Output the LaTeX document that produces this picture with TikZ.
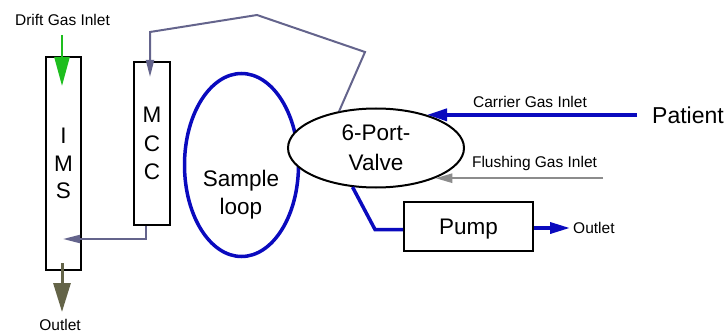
\documentclass[tikz,border=0pt]{standalone}
\usepackage{fontspec}
\setmainfont{Liberation Sans}
\usetikzlibrary{arrows.meta,calc,shapes.geometric}

\definecolor{loopblue}{RGB}{10,10,190}
\definecolor{slate}{RGB}{100,100,140}
\definecolor{driftgreen}{RGB}{30,190,30}
\definecolor{exhaust}{RGB}{100,100,72}
\definecolor{flushgray}{RGB}{140,140,140}

\begin{document}
\begin{tikzpicture}[x=1pt,y=-1pt,
  small/.style={font=\fontsize{15.5}{18}\selectfont, inner sep=0pt},
  big/.style={font=\fontsize{22.5}{27.5}\selectfont, align=center},
  unitbox/.style={draw, line width=2pt, fill=white, inner sep=0pt, big},
  bluepipe/.style={draw=loopblue, line width=3.5pt},
  slatepipe/.style={draw=slate, line width=2pt, -{Triangle[length=17pt,width=8pt]}},
  bluearrow/.style={bluepipe, -{Triangle[length=20pt,width=12pt]}},
]
\useasboundingbox (0,0) rectangle (727,334);

% sample loop (behind the valve)
\node[bluepipe, ellipse, minimum width=114pt, minimum height=183pt, inner sep=0pt] (loop) at (241.5,165) {};
\node[big, inner sep=0pt, font=\fontsize{22.5}{28}\selectfont] (looptext) at (241,195) {Sample\\loop};

% columns and pump
\node[unitbox, minimum width=35pt, minimum height=213pt] (ims) at (63.5,163.5) {I\\M\\S};
\node[unitbox, minimum width=36pt, minimum height=163pt, font=\fontsize{22.5}{28.5}\selectfont] (mcc) at (152,143.5) {M\\C\\C};
\node[unitbox, minimum width=129pt, minimum height=49pt, text depth=0pt] (pump) at (468.5,226.5) {Pump};

% six-port valve
\node[draw, line width=2pt, fill=white, ellipse, inner sep=0pt, minimum width=176pt, minimum height=79pt,
      big, font=\fontsize{22.5}{30.5}\selectfont] (valve) at (376,148) {6-Port-\\Valve};

% labels
\node[small, anchor=base] (drift) at (62.5,26) {Drift Gas Inlet};
\node[small, anchor=base] (imsout) at (60,330.5) {Outlet};
\node[small, anchor=base] (carrier) at (530,107.5) {Carrier Gas Inlet};
\node[small, anchor=base] (flush) at (534.5,167.5) {Flushing Gas Inlet};
\node[small, anchor=base west] (pumpout) at (573,233) {Outlet};
\node[inner sep=0pt, anchor=base west, font=\fontsize{23}{27}\selectfont] (patient) at (652,124) {Patient};

% free ends of connectors
\coordinate (driftin) at (62,35);
\coordinate (drifttip) at (62,86);
\coordinate (exhaustin) at (62,263);
\coordinate (exhausttip) at (62,312);
\coordinate (flushin) at (603,177);
\coordinate (mcctip) at (150,77);
\coordinate (imstip) at (63,239);

% drift gas and IMS outlet
\draw[driftgreen, line width=2.5pt, -{Triangle[length=29pt,width=15pt]}] (driftin) -- (drifttip);
\draw[exhaust, line width=3pt, -{Triangle[length=29pt,width=17pt]}] (exhaustin) -- (exhausttip);

% valve to MCC, MCC to IMS
\draw[slatepipe] (valve.135) -- (365,52) -- (257,15) -- (150,32) -- (mcctip);
\draw[slatepipe] ($(mcc.south)+(-6,0)$) |- (imstip);

% inlets into the valve
\draw[bluearrow, shorten <=15pt] (valve.33 -| patient.west) -- (valve.33);
\draw[flushgray, line width=2.5pt, -{Triangle[length=17pt,width=9pt]}] (valve.-27 -| flushin) -- (valve.-27);

% valve to pump and pump outlet
\draw[bluepipe] (valve.239) -- (375,229.5) -- (pump.west |- 0,229.5);
\draw[bluearrow, -{Triangle[length=20pt,width=11pt]}, shorten >=3pt] (pump.east |- 0,228) -- (pumpout.west |- 0,228);
\end{tikzpicture}
\end{document}
